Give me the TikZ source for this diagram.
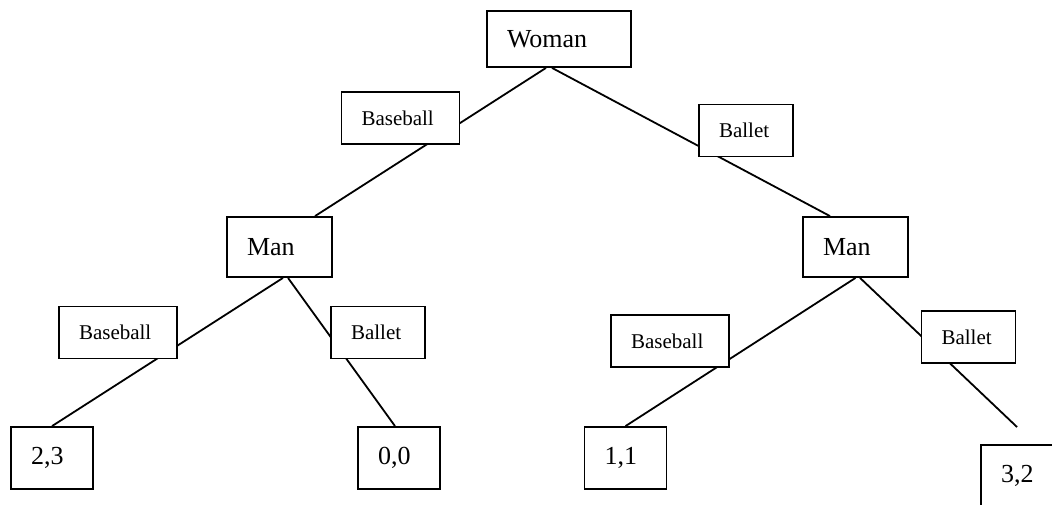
\documentclass[tikz,border=0pt]{standalone}
\usepackage{fontspec}
\setmainfont{Liberation Serif}
\usetikzlibrary{calc}
\tikzset{
  box/.style={draw, fill=white, line width=0.9pt, inner xsep=10pt, inner ysep=0pt, align=left, text width=#1},
  player/.style={box=32.5pt, minimum height=30pt, font=\fontsize{13}{15}\selectfont},
  act/.style={box=#1, minimum height=26pt, font=\fontsize{10.5}{12}\selectfont},
  pay/.style={box=21pt, minimum height=31pt, font=\fontsize{13}{15}\selectfont},
  edge/.style={line width=0.9pt}
}
\begin{document}
\begin{tikzpicture}[x=0.5pt, y=-0.5pt]
  \clip (0,0) rectangle (1052,504);
  % players
  \node[player, text width=52pt, minimum height=28pt] (woman) at (559,39) {Woman};
  \node[player] (manL) at (279.5,247) {Man};
  \node[player] (manR) at (855.5,247) {Man};
  % payoffs
  \node[pay] (p23) at (52,458) {2,3};
  \node[pay] (p00) at (399,458) {0,0};
  \node[pay] (p11) at (625.5,458) {1,1};
  \node[pay, text width=26pt] (p32) at (1027,476) {3,2};
  \coordinate (end) at (1017,427);
  % branches
  \draw[edge] ($(woman.south)+(-13,0)$) -- ($(manL.north)+(35.5,0)$);
  \draw[edge] ($(woman.south)+(-7,0)$) -- ($(manR.north)+(-25.5,0)$);
  \draw[edge] ($(manL.south)+(3.5,0)$) -- (p23.north);
  \draw[edge] ($(manL.south)+(8.5,0)$) -- ($(p00.north)+(-4,0)$);
  \draw[edge] (manR.south) -- (p11.north);
  \draw[edge] ($(manR.south)+(4.5,0)$) -- (end);
  % action labels
  \node[act=39pt] (baseT) at (400.5,118) {Baseball};
  \node[act=27pt] (balletT) at (746,130.5) {Ballet};
  \node[act=39pt] (baseLL) at (118,332.5) {Baseball};
  \node[act=27pt] (balletL) at (378,332.5) {Ballet};
  \node[act=39pt] (baseRL) at (670,341) {Baseball};
  \node[act=27pt] (balletR) at (968.5,337) {Ballet};
\end{tikzpicture}
\end{document}
